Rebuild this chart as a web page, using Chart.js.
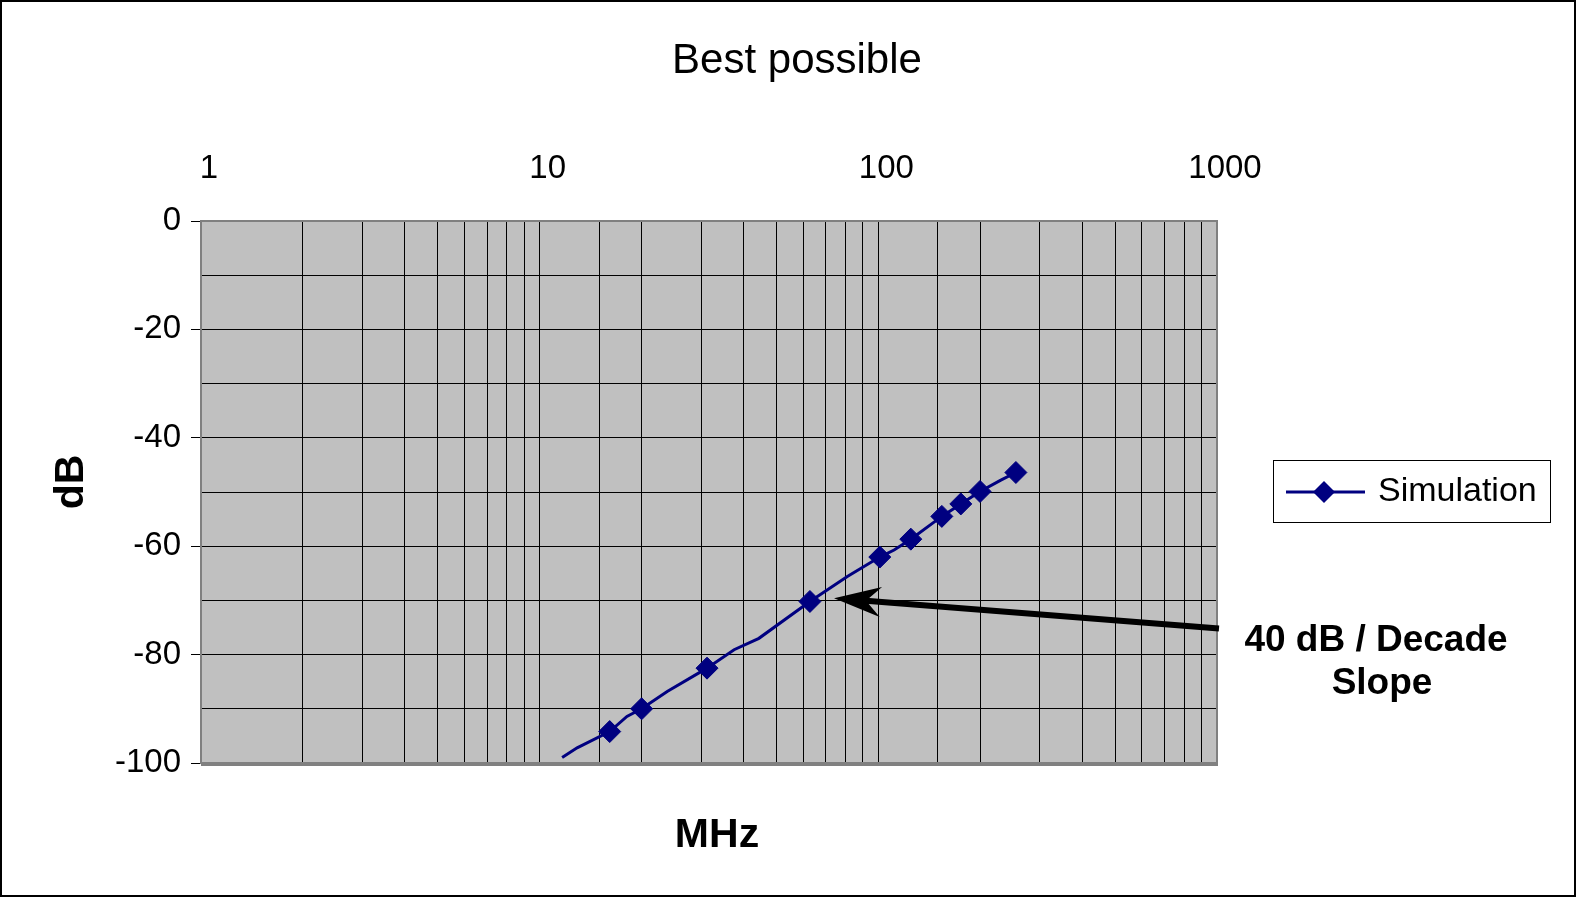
<!DOCTYPE html>
<html><head><meta charset="utf-8">
<script src="https://cdn.jsdelivr.net/npm/chart.js@4.4.0/dist/chart.umd.min.js"></script>
<style>html,body{margin:0;padding:0;background:#fff;} canvas{display:block;}</style>
</head><body>
<canvas id="c" width="1576" height="897"></canvas>
<script>
const chartTitle = 'Best possible';
const xAxisTitle = 'MHz';
const yAxisTitle = 'dB';
const seriesName = 'Simulation';
const annotationLines = ['40 dB / Decade', 'Slope'];

// full simulated curve (MHz, dB)
const lineFreq = [11.65, 12.9, 16.1, 18.1, 20.0, 23.8, 31.2, 37.5, 44.4, 62.8, 81, 101, 111.3, 124.7, 154, 175.2, 199.7, 230, 254.8];
const lineDb   = [-99.0, -97.2, -94.2, -91.4, -90.0, -86.8, -82.5, -79.1, -77.0, -70.2, -65.6, -62.0, -60.7, -58.7, -54.5, -52.2, -49.9, -47.8, -46.4];
// marked points
const markerFreq = [16.1, 20.0, 31.2, 62.8, 101, 124.7, 154, 175.2, 199.7, 254.8];
const markerDb   = [-94.2, -90.0, -82.5, -70.2, -62.0, -58.7, -54.5, -52.2, -49.9, -46.4];

const xTickLabels = [1, 10, 100, 1000];
const yTickLabels = [0, -20, -40, -60, -80, -100];

// annotation arrow anchors (data space)
const arrowTail = {x: 1000, y: -75.2};
const arrowTip = {x: 74, y: -69.6};

const NAVY = '#000080';
const FONT = '"Liberation Sans", Arial, Helvetica, sans-serif';

function drawDiamond(ctx, x, y, r) {
  ctx.beginPath();
  ctx.moveTo(x, y - r); ctx.lineTo(x + r, y); ctx.lineTo(x, y + r); ctx.lineTo(x - r, y);
  ctx.closePath(); ctx.fill();
}

const decorPlugin = {
  id: 'decor',
  beforeDraw(chart) {
    const {ctx, chartArea: a} = chart;
    ctx.save();
    ctx.fillStyle = '#fff';
    ctx.fillRect(0, 0, chart.width, chart.height);
    ctx.fillStyle = '#C0C0C0';
    ctx.fillRect(a.left, a.top, a.right - a.left, a.bottom - a.top);
    ctx.restore();
  },
  afterDatasetsDraw(chart) {
    const {ctx, chartArea: a, scales} = chart;
    ctx.save();
    // plot border
    ctx.strokeStyle = '#808080';
    ctx.lineWidth = 2;
    ctx.strokeRect(a.left, a.top, a.right - a.left, a.bottom - a.top);
    ctx.fillStyle = '#808080';
    ctx.fillRect(a.left, a.bottom - 1, a.right - a.left + 1, 4);
    // arrow
    const tx = scales.x.getPixelForValue(arrowTail.x) + 2, ty = scales.y.getPixelForValue(arrowTail.y);
    const hx = scales.x.getPixelForValue(arrowTip.x), hy = scales.y.getPixelForValue(arrowTip.y);
    const dx = tx - hx, dy = ty - hy, len = Math.hypot(dx, dy);
    const ux = dx / len, uy = dy / len, px = -uy, py = ux;
    const headLen = 47, headHalf = 15, notch = 32;
    ctx.strokeStyle = '#000'; ctx.fillStyle = '#000';
    ctx.lineWidth = 6;
    ctx.beginPath();
    ctx.moveTo(hx + ux * notch, hy + uy * notch);
    ctx.lineTo(tx, ty);
    ctx.stroke();
    ctx.beginPath();
    ctx.moveTo(hx, hy);
    ctx.lineTo(hx + ux * headLen + px * headHalf, hy + uy * headLen + py * headHalf);
    ctx.lineTo(hx + ux * notch, hy + uy * notch);
    ctx.lineTo(hx + ux * headLen - px * headHalf, hy + uy * headLen - py * headHalf);
    ctx.closePath();
    ctx.fill();
    ctx.restore();
  },
  afterDraw(chart) {
    const {ctx} = chart;
    ctx.save();
    ctx.fillStyle = '#000';
    // title
    ctx.font = '42px ' + FONT;
    ctx.textAlign = 'center'; ctx.textBaseline = 'alphabetic';
    ctx.fillText(chartTitle, 797, 73);
    // x axis title
    ctx.font = 'bold 41px ' + FONT;
    ctx.fillText(xAxisTitle, 717, 847);
    // y axis title
    ctx.save();
    ctx.translate(83, 482);
    ctx.rotate(-Math.PI / 2);
    ctx.fillText(yAxisTitle, 0, 0);
    ctx.restore();
    // annotation text
    ctx.font = 'bold 37px ' + FONT;
    ctx.fillText(annotationLines[0], 1376, 651);
    ctx.fillText(annotationLines[1], 1382, 694);
    // legend
    ctx.fillStyle = '#fff';
    ctx.fillRect(1273, 460, 278, 63);
    ctx.strokeStyle = '#000'; ctx.lineWidth = 1;
    ctx.strokeRect(1273.5, 460.5, 277, 62);
    ctx.strokeStyle = NAVY; ctx.lineWidth = 3;
    ctx.beginPath(); ctx.moveTo(1286, 492); ctx.lineTo(1365, 492); ctx.stroke();
    ctx.fillStyle = NAVY;
    drawDiamond(ctx, 1324, 492, 11);
    ctx.fillStyle = '#000';
    ctx.font = '34px ' + FONT;
    ctx.textAlign = 'left'; ctx.textBaseline = 'middle';
    ctx.fillText(seriesName, 1378, 492);
    // outer border
    ctx.strokeStyle = '#000'; ctx.lineWidth = 2;
    ctx.strokeRect(1, 1, chart.width - 2, chart.height - 2);
    ctx.restore();
  }
};

const lineData = lineFreq.map((f, i) => ({x: f, y: lineDb[i]}));
const markerData = markerFreq.map((f, i) => ({x: f, y: markerDb[i]}));

new Chart(document.getElementById('c'), {
  type: 'line',
  data: {
    datasets: [
      {label: seriesName + ' curve', data: lineData, borderColor: NAVY, borderWidth: 3, pointRadius: 0, tension: 0, fill: false},
      {label: seriesName, data: markerData, showLine: false, pointStyle: 'rectRot', pointRadius: 11, pointBackgroundColor: NAVY, pointBorderColor: NAVY, pointBorderWidth: 1}
    ]
  },
  options: {
    responsive: false,
    animation: false,
    devicePixelRatio: 1,
    layout: {padding: {left: 0, top: 0, right: 359, bottom: 134}},
    plugins: {legend: {display: false}, title: {display: false}, tooltip: {enabled: false}},
    scales: {
      x: {
        type: 'logarithmic', position: 'top', min: 1, max: 1000,
        ticks: {
          autoSkip: false, maxRotation: 0, minRotation: 0,
          callback: v => xTickLabels.includes(v) ? String(v) : '',
          labelOffset: 8, padding: 32, color: '#000',
          font: {family: FONT, size: 33}
        },
        grid: {color: '#000', lineWidth: 1, drawTicks: false},
        border: {display: false},
        afterFit: s => { s.height = 221; }
      },
      y: {
        type: 'linear', min: -100, max: 0,
        ticks: {
          stepSize: 10,
          callback: v => yTickLabels.includes(v) ? String(v) : '',
          padding: 10, color: '#000',
          font: {family: FONT, size: 33}
        },
        grid: {
          color: '#000', lineWidth: 1, tickLength: 10,
          tickColor: c => (c.tick && yTickLabels.includes(c.tick.value)) ? '#000' : 'rgba(0,0,0,0)'
        },
        border: {display: false},
        afterFit: s => { s.width = 201; }
      }
    }
  },
  plugins: [decorPlugin]
});
</script>
</body></html>
